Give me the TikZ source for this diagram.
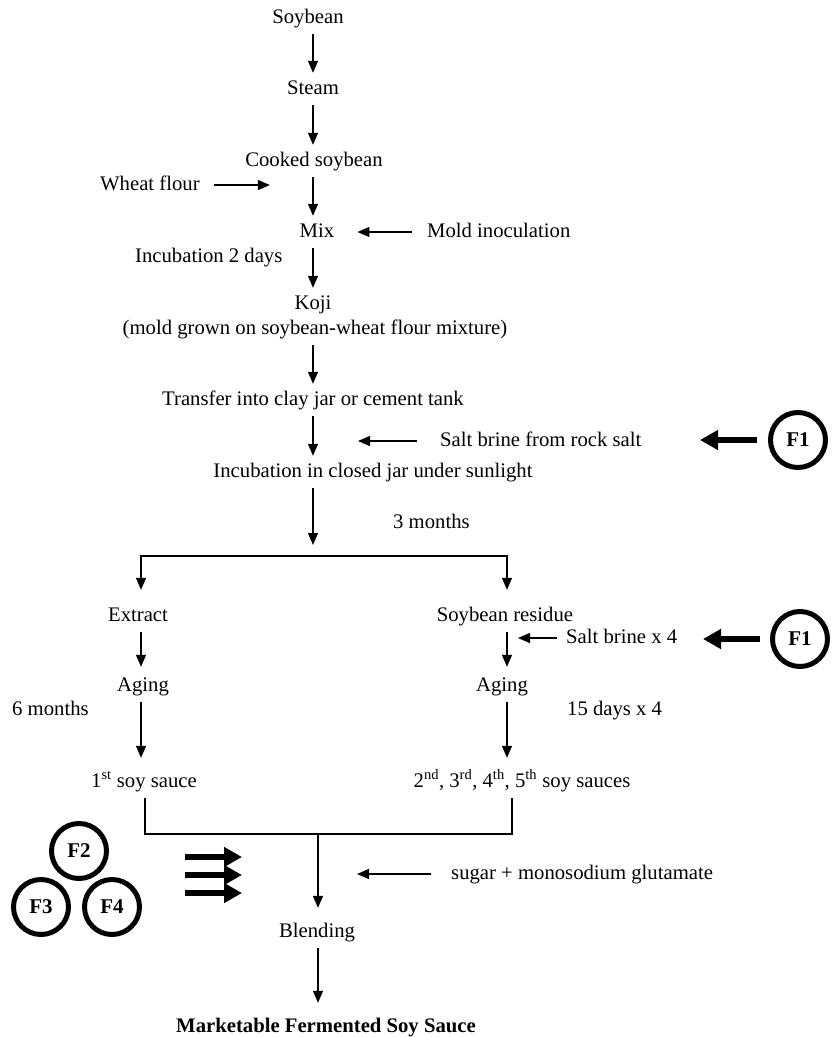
\documentclass[tikz,border=0pt]{standalone}
\usepackage{fontspec}
\setmainfont{Liberation Serif}
\usetikzlibrary{arrows.meta,calc}
\begin{document}
\begin{tikzpicture}[x=1pt,y=-1pt,
  txt/.style={inner xsep=0pt, inner ysep=7pt, text height=14pt, text depth=4pt, font=\fontsize{20.7}{24}\selectfont},
  side/.style={txt, anchor=west},
  arr/.style={line width=1.3pt, -{Triangle[length=12pt,width=10pt]}},
  thickarr/.style={line width=6.5pt, -{Triangle[length=18pt,width=19pt]}},
  fc/.style={circle, draw, line width=5pt, minimum size=55pt, inner sep=0pt, font=\fontsize{21}{24}\selectfont\bfseries},
  ln/.style={line width=1.3pt}
]
\useasboundingbox (0,0) rectangle (833,1037);

% main column
\coordinate (c) at (313,0);
\node[txt] (soy) at (308,18) {Soybean};
\node[txt] (steam) at (313,89) {Steam};
\node[txt] (cook) at (314,161) {Cooked soybean};
\node[side] (wheat) at (100,185) {Wheat flour};
\node[txt] (mix) at (317,232) {Mix};
\node[side] (mold) at (427,232) {Mold inoculation};
\node[side] (inc2) at (135,257) {Incubation 2 days};
\node[txt] (koji) at (313,304) {Koji};
\node[txt] (kojid) at (315,329) {(mold grown on soybean-wheat flour mixture)};
\node[txt] (trans) at (313,400) {Transfer into clay jar or cement tank};
\node[side] (brine) at (440,441) {Salt brine from rock salt};
\node[fc] (f1a) at (798,440) {F1};
\node[txt] (incub) at (373,472) {Incubation in closed jar under sunlight};
\node[side] (m3) at (393,523) {3 months};

\draw[arr] (soy.south -| c) -- (steam.north -| c);
\draw[arr] (steam.south -| c) -- (cook.north -| c);
\draw[arr] (cook.south -| c) -- (mix.north -| c);
\draw[arr] (mix.south -| c) -- (koji.north -| c);
\draw[arr] (kojid.south -| c) -- (trans.north -| c);
\draw[arr] (trans.south -| c) -- (incub.north -| c);
\draw[arr] ([xshift=14pt]wheat.east) -- ([xshift=70pt]wheat.east);
\draw[arr] ([xshift=-15pt]mold.west) -- ([xshift=23pt]mix.east);
\draw[arr] ([xshift=-23pt]brine.west) -- ([xshift=-82pt]brine.west);
\draw[thickarr] ([xshift=-11pt]f1a.west) -- ([xshift=-68pt]f1a.west);

% branch
\coordinate (br) at (313,545);
\coordinate (bl) at (141,556);
\coordinate (brr) at (507,556);
\draw[arr] (incub.south -| c) -- (br);

\node[txt] (ext) at (138,616) {Extract};
\node[txt] (res) at (505,616) {Soybean residue};
\node[side] (brine4) at (566,638) {Salt brine x 4};
\node[fc] (f1b) at (800,639) {F1};
\node[txt] (agel) at (143,686) {Aging};
\node[txt] (ager) at (502,686) {Aging};
\node[side] (m6) at (12,710) {6 months};
\node[side] (d15) at (567,710) {15 days x 4};
\node[txt] (s1) at (144,782) {1\textsuperscript{st} soy sauce};
\node[txt] (s2) at (522,782) {2\textsuperscript{nd}, 3\textsuperscript{rd}, 4\textsuperscript{th}, 5\textsuperscript{th} soy sauces};

\draw[arr, shorten >=10pt] (brr) -- (bl) -- (bl |- ext.north);
\draw[arr, shorten >=10pt] (bl) -- (brr) -- (brr |- res.north);
\draw[arr, shorten >=3pt] (ext.south -| bl) -- (agel.north -| bl);
\draw[arr, shorten >=3pt] (res.south -| brr) -- (ager.north -| brr);
\draw[arr, shorten >=8pt] (agel.south -| bl) -- (s1.north -| bl);
\draw[arr, shorten >=8pt] (ager.south -| brr) -- (s2.north -| brr);
\draw[arr] ([xshift=-9pt]brine4.west) -- ([xshift=-48pt]brine4.west);
\draw[thickarr] ([xshift=-10pt]f1b.west) -- ([xshift=-67pt]f1b.west);

% junction and blending
\coordinate (jl) at (145,834);
\coordinate (jr) at (512,834);
\coordinate (jm) at (318,834);
\node[fc] (f2) at (79,851) {F2};
\node[fc] (f3) at (41,907) {F3};
\node[fc] (f4) at (112,907) {F4};
\node[side] (sugar) at (451,874) {sugar + monosodium glutamate};
\node[txt] (blend) at (317,932) {Blending};
\node[txt, font=\fontsize{20.7}{24}\selectfont\bfseries] (mkt) at (326,1027) {Marketable Fermented Soy Sauce};

\draw[ln] (s1.south -| jl) -- (jl) -- (jr) -- (s2.south -| jr);
\draw[arr, shorten >=8pt] (jm) -- (blend.north -| jm);
\draw[arr, shorten >=8pt] (blend.south -| jm) -- (mkt.north -| jm);
\draw[arr] ([xshift=-20pt]sugar.west) -- ([xshift=-94pt]sugar.west);

\coordinate (t1) at (185,857);
\coordinate (t2) at (185,875);
\coordinate (t3) at (185,893);
\draw[thickarr] (t1) -- ([xshift=57pt]t1);
\draw[thickarr] (t2) -- ([xshift=57pt]t2);
\draw[thickarr] (t3) -- ([xshift=57pt]t3);
\end{tikzpicture}
\end{document}
